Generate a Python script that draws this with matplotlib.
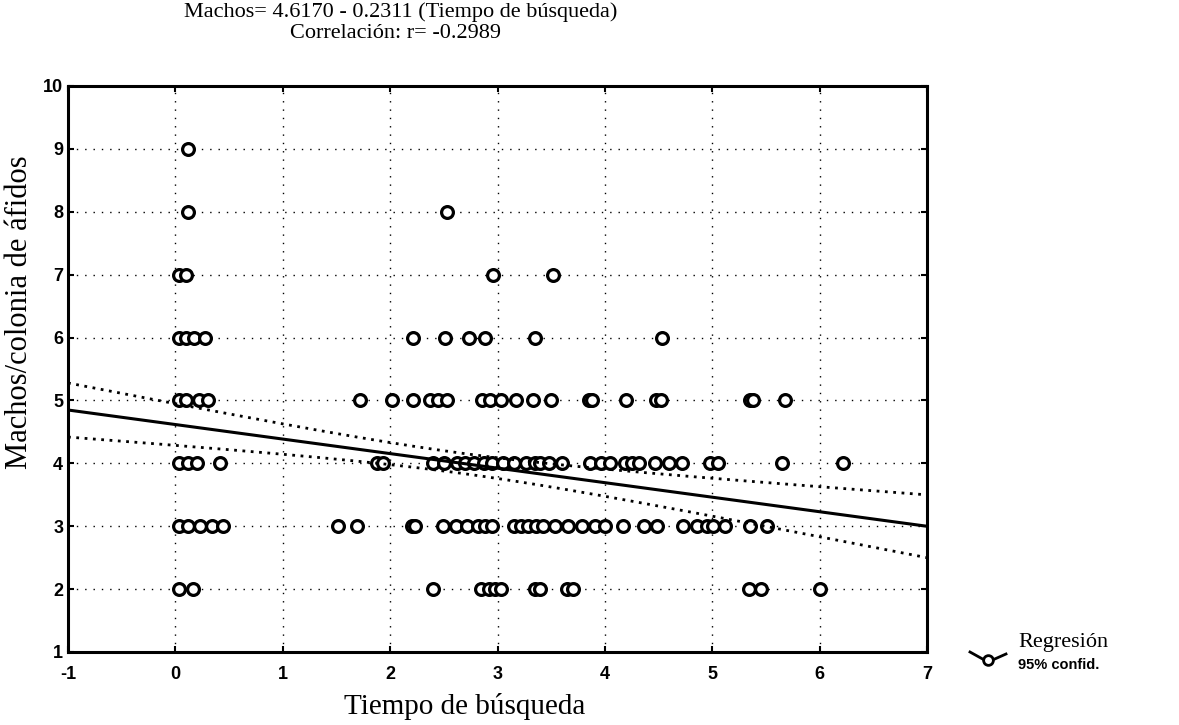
import matplotlib.pyplot as plt
import numpy as np
from matplotlib.lines import Line2D

plt.rcParams['axes.unicode_minus'] = False

# datos: tiempo de busqueda por cada nivel de machos/colonia
x_y9 = [0.12]
x_y8 = [0.12, 2.53]
x_y7 = [0.03, 0.1, 2.96, 3.52]
x_y6 = [0.03, 0.1, 0.17, 0.28, 2.21, 2.51, 2.73, 2.88, 3.35, 4.53]
x_y5 = [0.03, 0.1, 0.22, 0.3, 1.72, 2.02, 2.21, 2.37, 2.45, 2.53, 2.86, 2.93,
        3.03, 3.17, 3.33, 3.5, 3.85, 3.88, 4.2, 4.48, 4.52, 5.35, 5.38, 5.68]
x_y4 = [0.03, 0.12, 0.2, 0.42, 1.88, 1.93, 2.4, 2.5, 2.62, 2.7, 2.78, 2.87,
        2.95, 3.05, 3.15, 3.27, 3.35, 3.4, 3.48, 3.6, 3.86, 3.96, 4.05, 4.19,
        4.25, 4.32, 4.47, 4.6, 4.72, 4.98, 5.05, 5.65, 6.22]
x_y3 = [0.03, 0.12, 0.23, 0.34, 0.44, 1.51, 1.69, 2.2, 2.23, 2.49, 2.61, 2.72,
        2.82, 2.88, 2.95, 3.15, 3.22, 3.28, 3.36, 3.42, 3.54, 3.66, 3.79, 3.91,
        4.0, 4.17, 4.36, 4.49, 4.73, 4.86, 4.95, 5.01, 5.12, 5.35, 5.51]
x_y2 = [0.03, 0.16, 2.4, 2.85, 2.92, 2.98, 3.03, 3.35, 3.4, 3.65, 3.7, 5.34, 5.45, 6.0]

niveles = [9, 8, 7, 6, 5, 4, 3, 2]
filas = [x_y9, x_y8, x_y7, x_y6, x_y5, x_y4, x_y3, x_y2]

# coeficientes de la regresion (del titulo)
b0 = 4.6170
b1 = -0.2311
# intervalo de confianza 95%: semiancho minimo, centro y semiancho en x=-1 (leidos)
conf_xbar = 2.66
conf_hmin = 0.16
conf_hizq = 0.43

xs = np.concatenate([np.array(f) for f in filas])
ys = np.concatenate([np.full(len(f), n) for f, n in zip(filas, niveles)])

serif = ['Liberation Serif', 'DejaVu Serif']
sans = ['Liberation Sans', 'DejaVu Sans']

fig = plt.figure(figsize=(11.79, 7.25), dpi=100)
ax = fig.add_axes([68 / 1179, 1 - 652 / 725, (927 - 68) / 1179, (652 - 86) / 725])

# puntos
ax.plot(xs, ys, 'o', ms=8.5, mfc='white', mec='black', mew=2.3, zorder=3)

# recta de regresion e intervalo 95%
xl = np.linspace(-1, 7, 200)
yl = b0 + b1 * xl
k = (conf_hizq ** 2 - conf_hmin ** 2) / (-1 - conf_xbar) ** 2
h = np.sqrt(conf_hmin ** 2 + k * (xl - conf_xbar) ** 2)
ax.plot(xl, yl, color='black', lw=2.2, zorder=4)
ax.plot(xl, yl + h, color='black', lw=2, ls=(0, (1, 2)), zorder=4)
ax.plot(xl, yl - h, color='black', lw=2, ls=(0, (1, 2)), zorder=4)

ax.set_xlim(-1, 7)
ax.set_ylim(1, 10)
ax.set_xticks(range(-1, 8))
ax.set_yticks(range(1, 11))
ax.grid(True, color='black', lw=1, ls=(0, (1, 5)))
ax.tick_params(direction='in', length=4, width=1.5, right=True, top=True)
for lab in ax.get_xticklabels() + ax.get_yticklabels():
    lab.set_fontfamily(sans)
    lab.set_fontweight('bold')
    lab.set_fontsize(13)
ax.tick_params(axis='x', pad=10)
for sp in ax.spines.values():
    sp.set_linewidth(2.2)

fig.text(401 / 1179, 1 - 12 / 725, 'Machos= 4.6170 - 0.2311 (Tiempo de búsqueda)',
         ha='center', va='center', fontsize=16, family=serif)
fig.text(395 / 1179, 1 - 34 / 725, 'Correlación: r= -0.2989',
         ha='center', va='center', fontsize=16, family=serif)
fig.text(465 / 1179, 1 - 706 / 725, 'Tiempo de búsqueda',
         ha='center', va='center', fontsize=21, family=serif)
fig.text(20 / 1179, 1 - 312 / 725, 'Machos/colonia de áfidos', rotation=90,
         ha='center', va='center', fontsize=22, family=serif)

# leyenda
fig.add_artist(Line2D([970 / 1179, 988 / 1179, 1006 / 1179],
                      [1 - 652 / 725, 1 - 662 / 725, 1 - 654 / 725],
                      color='black', lw=2))
fig.add_artist(Line2D([988 / 1179], [1 - 660 / 725], marker='o', ms=7,
                      mfc='white', mec='black', mew=2))
fig.text(1018 / 1179, 1 - 642 / 725, 'Regresión', ha='left', va='center',
         fontsize=16, family=serif)
fig.text(1018 / 1179, 1 - 665 / 725, '95% confid.', ha='left', va='center',
         fontsize=10.5, family=sans, fontweight='bold')

fig.savefig('out.png', dpi=100)
